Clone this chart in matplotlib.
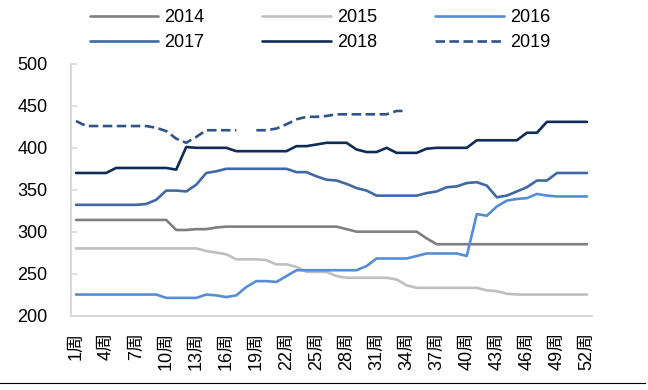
import numpy as np
import matplotlib
matplotlib.use("Agg")
import matplotlib.pyplot as plt
from matplotlib.lines import Line2D

plt.rcParams['font.family'] = ['Liberation Sans', 'Noto Sans CJK SC', 'DejaVu Sans']

weeks = list(range(1, 53))
tick_weeks = list(range(1, 53, 3))
tick_labels = [f"{w}周" for w in tick_weeks]

s2014 = [314, 314, 314, 314, 314, 314, 314, 314, 314, 314,
         302, 302, 303, 303, 305, 306,
         306, 306, 306, 306, 306, 306, 306, 306, 306, 306, 306,
         303, 300, 300, 300, 300, 300, 300, 300,
         292,
         285, 285, 285, 285, 285, 285, 285, 285, 285, 285, 285, 285, 285, 285, 285, 285]
s2015 = [280, 280, 280, 280, 280, 280, 280, 280, 280, 280, 280, 280, 280,
         277, 275, 273, 267, 267, 267, 266, 261, 261, 258, 252, 252, 252, 247,
         245, 245, 245, 245, 245, 243, 236, 233,
         233, 233, 233, 233, 233, 233, 230, 229, 226,
         225, 225, 225, 225, 225, 225, 225, 225]
s2016 = [225, 225, 225, 225, 225, 225, 225, 225, 225,
         221, 221, 221, 221, 225, 224, 222, 224, 234, 241, 241, 240, 247,
         254, 254, 254, 254, 254, 254, 254, 259, 268, 268, 268, 268, 271,
         274, 274, 274, 274, 271, 321, 319, 330, 337, 339, 340, 345, 343,
         342, 342, 342, 342]
s2017 = [332, 332, 332, 332, 332, 332, 332, 333,
         338, 349, 349, 348, 356, 370, 372, 375,
         375, 375, 375, 375, 375, 375,
         371, 371, 366, 362, 361, 357, 352, 349, 343,
         343, 343, 343, 343,
         346, 348, 353, 354, 358, 359, 355, 341, 343, 348, 353, 361, 361,
         370, 370, 370, 370]
s2018 = [370, 370, 370, 370,
         376, 376, 376, 376, 376, 376,
         374, 401, 400, 400, 400, 400,
         396, 396, 396, 396, 396, 396,
         402, 402, 404, 406, 406, 406, 398, 395, 395, 400, 394, 394, 394,
         399, 400, 400, 400, 400,
         409, 409, 409, 409, 409, 418, 418, 431,
         431, 431, 431, 431]
s2019 = [432, 426, 426, 426, 426, 426, 426, 426, 424, 420, 411, 406, 413,
         421, 421, 421, 421, np.nan, 421, 421, 423, 428, 434, 437, 437, 438,
         440, 440, 440, 440, 440, 440, 444, 444] + [np.nan] * 18

series = [
    ("2014", s2014, "#7F7F7F", "-"),
    ("2015", s2015, "#BFBFBF", "-"),
    ("2016", s2016, "#558ED5", "-"),
    ("2017", s2017, "#3F69A3", "-"),
    ("2018", s2018, "#0E2C57", "-"),
    ("2019", s2019, "#2F5487", "--"),
]

fig = plt.figure(figsize=(6.48, 3.90), dpi=100)
ax = fig.add_axes([71 / 648, 1 - 315.5 / 390, (592 - 71) / 648, (315.5 - 64) / 390])

handles = []
for name, vals, color, ls in series:
    (ln,) = ax.plot(weeks, vals, color=color, lw=1.9, linestyle=ls,
                    solid_capstyle='round', label=name)
    if ls == "--":
        ln.set_dashes((3.6, 1.7))
    handles.append(ln)

ax.set_xlim(0.5, 52.5)
ax.set_ylim(200, 500)
ax.set_yticks([200, 250, 300, 350, 400, 450, 500])
ax.set_xticks(tick_weeks)
ax.set_xticklabels(tick_labels, rotation=90)

for sp in ["top", "right"]:
    ax.spines[sp].set_visible(False)
ax.spines["left"].set_color("#D9D9D9")
ax.spines["bottom"].set_color("#D9D9D9")
ax.spines["left"].set_linewidth(1.5)
ax.spines["bottom"].set_linewidth(1.5)

ax.tick_params(axis='y', direction='in', length=4, color="#D9D9D9", width=1.2,
               labelsize=13, pad=17)
ax.tick_params(axis='x', length=0, labelsize=13, pad=12)

# legend fills column-wise: reorder so rows read 2014 2015 2016 / 2017 2018 2019
order = [0, 3, 1, 4, 2, 5]
leg = fig.legend(handles=[handles[i] for i in order],
                 labels=[series[i][0] for i in order], ncol=3,
                 loc='center', bbox_to_anchor=(320 / 648, 1 - 30 / 390),
                 frameon=False, fontsize=13, handlelength=3.8,
                 handletextpad=0.35, columnspacing=3.2, labelspacing=0.45)

fig.add_artist(Line2D([0, 645 / 648], [1 - 383 / 390, 1 - 383 / 390],
                      transform=fig.transFigure, color="black", lw=0.8))

fig.savefig("out.png", dpi=100)
